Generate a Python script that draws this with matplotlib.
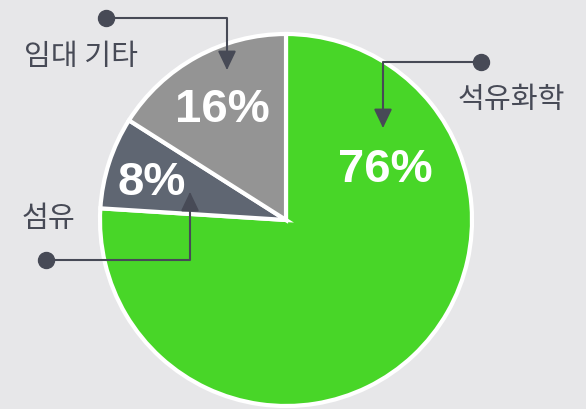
import matplotlib.pyplot as plt

# data
labels = ['석유화학', '섬유', '임대 기타']
shares = [76, 8, 16]
colors = ['#48d628', '#5f6672', '#949494']

W, H = 586, 409
BG = '#e7e7e9'
INK = '#474a56'

fig = plt.figure(figsize=(W / 100, H / 100), dpi=100, facecolor=BG)
ax = fig.add_axes([0, 0, 1, 1])
ax.set_facecolor(BG)

# pie in pixel-like data units
cx, cy, r = 286, H - 220, 186
wedges, _ = ax.pie(shares, colors=colors, startangle=90, counterclock=False,
                   center=(cx, cy), radius=r,
                   wedgeprops=dict(edgecolor='white', linewidth=3))
ax.set_xlim(0, W)
ax.set_ylim(0, H)
ax.axis('off')


def img(x, y):
    # image coords (y down) -> data coords
    return x, H - y


# percentage labels (image coords)
pct_pos = [(385, 170), (152, 183), (222, 110)]
for v, (x, y) in zip(shares, pct_pos):
    ax.text(*img(x, y), f'{v}%', color='white', fontsize=34, fontweight='bold',
            family=['Liberation Sans', 'DejaVu Sans'], ha='center', va='center')

# category labels
name_pos = [(511, 100), (48, 219), (81, 57)]
for name, (x, y) in zip(labels, name_pos):
    ax.text(*img(x, y), name, color=INK, fontsize=21,
            family=['Noto Sans CJK KR', 'DejaVu Sans'], ha='center', va='center')

# leader lines: dot -> elbow -> arrow tip
leaders = [
    ((481, 62), (383, 128)),
    ((46, 260), (190, 192)),
    ((106, 18), (227, 70)),
]
for (dx, dy), (tx, ty) in leaders:
    ax.annotate('', xy=img(tx, ty), xytext=img(dx, dy),
                arrowprops=dict(arrowstyle='-|>,head_length=1.15,head_width=0.55',
                                connectionstyle='angle,angleA=0,angleB=90,rad=0',
                                color=INK, lw=1.5, shrinkA=0, shrinkB=0,
                                mutation_scale=10))
    ax.plot(*img(dx, dy), 'o', color=INK, markersize=11.5)

fig.savefig('out.png', dpi=100, facecolor=BG)
